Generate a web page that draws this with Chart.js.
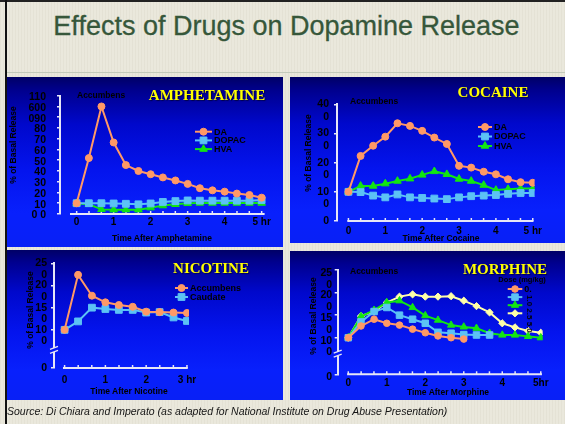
<!DOCTYPE html>
<html>
<head>
<meta charset="utf-8">
<script src="https://cdn.jsdelivr.net/npm/chart.js@4.4.1/dist/chart.umd.min.js"></script>
<style>
  html, body { margin: 0; padding: 0; }
  body {
    width: 565px; height: 424px; position: relative; overflow: hidden;
    background: #eae8dc;
    font-family: "Liberation Sans", Arial, sans-serif;
  }
  .stripes { position: absolute; left: 0; top: 0; width: 565px; height: 424px;
    background: repeating-linear-gradient(90deg, rgba(120,110,80,0.05) 0 1px, transparent 1px 3px); }
  .edge-l { position: absolute; left: 5px; top: 0; width: 2px; height: 424px; background: #111; }
  .edge-t { position: absolute; left: 0; top: 0; width: 565px; height: 2px; background: #222; }
  .heading { position: absolute; left: 0; width: 573px; top: 13px; line-height: 27px; text-align: center;
    font-size: 27px; color: #36573a; -webkit-text-stroke: 0.3px #36573a; }
  .rule { position: absolute; left: 7px; top: 72px; width: 558px; height: 1px; background: #c3cabb; }
  .panel { position: absolute; overflow: hidden;
    background: linear-gradient(180deg, #000066 0%, #00008e 8%, #0008cc 28%, #0414ee 55%, #0820fc 80%, #0820f6 100%); }
  .panel canvas { position: absolute; left: 0; top: 0; }
  .t { position: absolute; white-space: nowrap; line-height: 1; transform: translate(-50%, -50%); }
  .l { position: absolute; white-space: nowrap; line-height: 1; transform: translateY(-50%); }
  .drug { font-family: "Liberation Serif", "Times New Roman", serif; font-weight: bold; font-size: 15px;
    color: #ffff00; text-shadow: 1px 1px 1px rgba(0,0,40,0.7); }
  .blk { font-weight: bold; font-size: 8.5px; color: #000; }
  .ax { font-weight: bold; font-size: 8.5px; color: #000; }
  .rot { transform: translate(-50%, -50%) rotate(-90deg); }
  .rotd { transform: translate(-50%, -50%) rotate(90deg); }
  .source { position: absolute; left: 7px; top: 411px; transform: translateY(-50%); white-space: nowrap;
    font-style: italic; font-size: 10.5px; color: #151515; }
</style>
</head>
<body>
<div class="stripes"></div>
<div class="edge-t"></div>
<div class="edge-l"></div>
<div class="heading">Effects of Drugs on Dopamine Release</div>
<div class="rule"></div>

<div class="panel" style="left:7px;top:77px;width:276px;height:170px"><canvas id="cAmph" width="276" height="170"></canvas></div>
<div class="panel" style="left:290px;top:77px;width:275px;height:166px"><canvas id="cCoc" width="275" height="166"></canvas></div>
<div class="panel" style="left:7px;top:250px;width:276px;height:150px"><canvas id="cNic" width="276" height="150"></canvas></div>
<div class="panel" style="left:290px;top:251px;width:275px;height:149px"><canvas id="cMor" width="275" height="149"></canvas></div>

<!-- panel captions -->
<div class="t drug" style="left:207px;top:95px">AMPHETAMINE</div>
<div class="t drug" style="left:493px;top:92px">COCAINE</div>
<div class="t drug" style="left:211px;top:268px">NICOTINE</div>
<div class="t drug" style="left:505px;top:269px">MORPHINE</div>

<div class="l blk" style="left:77px;top:95px">Accumbens</div>
<div class="l blk" style="left:350px;top:101px">Accumbens</div>
<div class="l blk" style="left:350px;top:271px">Accumbens</div>

<div class="t ax rot" style="left:13px;top:145px">% of Basal Release</div>
<div class="t ax rot" style="left:308px;top:153px">% of Basal Release</div>
<div class="t ax rot" style="left:30px;top:310px">% of Basal Release</div>
<div class="t ax rot" style="left:313px;top:316px">% of Basal Release</div>

<div class="t ax" style="left:162px;top:238px">Time After Amphetamine</div>
<div class="t ax" style="left:441px;top:238px">Time After Cocaine</div>
<div class="t ax" style="left:129px;top:391px">Time After Nicotine</div>
<div class="t ax" style="left:448px;top:392px">Time After Morphine</div>

<div class="t ax" style="left:522px;top:280px;font-size:7.5px">Dose (mg/kg)</div>
<div class="t ax rotd" style="left:529px;top:314px;font-size:8px">1.0 2.5 5.0</div>

<div class="source">Source: Di Chiara and Imperato (as adapted for National Institute on Drug Abuse Presentation)</div>

<script>
// ---- Amphetamine: % of basal release, sampled every 20 min ----
const ampHours  = [0, 0.33, 0.67, 1, 1.33, 1.67, 2, 2.33, 2.67, 3, 3.33, 3.67, 4, 4.33, 4.67, 5];
const ampDA     = [100, 520, 1000, 665, 455, 400, 370, 340, 312, 280, 240, 220, 208, 190, 177, 152];
const ampDOPAC  = [100, 100, 100, 98, 95, 90, 98, 112, 120, 126, 124, 124, 124, 124, 124, 130];
const ampHVA    = [100, 90, 43, 40, 40, 40, 59, 78, 90, 99, 102, 102, 102, 102, 102, 102];
const ampYTicks = [0, 100, 200, 300, 400, 500, 600, 700, 800, 900, 1000, 1100];
const ampYLabels = ["0 0", "10", "20", "30", "40", "50", "60", "70", "80", "090", "600", "110"];

// ---- Cocaine ----
const cocHours  = [0, 0.33, 0.67, 1, 1.33, 1.67, 2, 2.33, 2.67, 3, 3.33, 3.67, 4, 4.33, 4.67, 5];
const cocDA     = [100, 223, 258, 289, 335, 326, 309, 286, 264, 189, 183, 169, 160, 143, 133, 131];
const cocDOPAC  = [100, 99, 87, 81, 91, 81, 79, 77, 75, 81, 85, 87, 89, 93, 96, 96];
const cocHVA    = [100, 120, 120, 128, 137, 145, 158, 170, 160, 144, 137, 123, 106, 109, 111, 111];
const cocYTicks = [0, 100, 200, 300, 400];
const cocYLabels = ["0", ["", "10", "0"], ["", "20", "0"], ["", "30", "0"], ["", "40", "0"]];

// ---- Nicotine ----
const nicHours     = [0, 0.33, 0.67, 1, 1.33, 1.67, 2, 2.33, 2.67, 3];
const nicAccumbens = [100, 224, 177, 162, 156, 152, 141, 140, 139, 138];
const nicCaudate   = [100, 119, 150, 147, 145, 145, 139, 140, 128, 120];
const nicYTicks  = [14, 100, 150, 200, 250];
const nicYLabels = ["0", ["", "10", "0"], ["", "15", "0"], ["", "20", "0"], ["", "25", "0"]];

// ---- Morphine, four doses ----
const morHours  = [0, 0.33, 0.67, 1, 1.33, 1.67, 2, 2.33, 2.67, 3, 3.33, 3.67, 4, 4.33, 4.67, 5];
const morDose1  = [100, 126, 141, 132, 128, 119, 111, 104, 100, 97];
const morDose2  = [100, 135, 158, 167, 150, 141, 132, 112, 110, 107, 106, 106];
const morDose3  = [100, 147, 161, 178, 182, 167, 149, 139, 128, 124, 121, 110, 106, 106, 103, 100];
const morDose4  = [100, 148, 158, 178, 191, 196, 191, 191, 192, 182, 170, 156, 132, 123, 115, 111];
const morYTicks  = [19, 100, 150, 200, 250];
const morYLabels = ["0", ["", "10", "0"], ["", "15", "0"], ["", "20", "0"], ["", "25", "0"]];

const hourTicks5   = [0, 1, 2, 3, 4, 5];
const hourLabels5  = ["0", "1", "2", "3", "4", "5 hr"];
const hourLabels5b = ["0", "1", "2", "3", "4", "5hr"];
const hourTicks3   = [0, 1, 2, 3];
const hourLabels3  = ["0", "1", "2", "3 hr"];

const ORANGE = '#ff9966', BLUE = '#5cc2f5', GREEN = '#12e612', YELLOW = '#ffffa8';
const AXIS = '#e6e6f6';
const FONT = '"Liberation Sans", Arial, sans-serif';
Chart.defaults.font.family = FONT;

// Detached time axis with 20-minute tick marks, optional axis break, and an inline legend.
const panelDecor = {
  id: 'panelDecor',
  beforeDatasetsDraw(chart, args, o) {
    const { ctx, chartArea } = chart;
    const xs = chart.scales.x, ys = chart.scales.y;
    const y0 = chartArea.bottom;
    ctx.save();
    ctx.strokeStyle = AXIS;
    ctx.lineWidth = 2;
    ctx.beginPath();
    ctx.moveTo(xs.getPixelForValue(o.xLine[0]), y0);
    ctx.lineTo(xs.getPixelForValue(o.xLine[1]), y0);
    ctx.stroke();
    ctx.lineWidth = 1.5;
    for (let k = 0; k <= o.hours * 3; k++) {
      const px = xs.getPixelForValue(k / 3);
      ctx.beginPath(); ctx.moveTo(px, y0); ctx.lineTo(px, y0 - 3); ctx.stroke();
    }
    if (o.breakAt != null) {
      const bx = chartArea.left, by = ys.getPixelForValue(o.breakAt);
      ctx.clearRect(bx - 2, by - 2, 4, 4);
      ctx.lineWidth = 1.3;
      ctx.beginPath();
      ctx.moveTo(bx - 4, by - 0.5); ctx.lineTo(bx + 4, by - 3.5);
      ctx.moveTo(bx - 4, by + 3.5); ctx.lineTo(bx + 4, by + 0.5);
      ctx.stroke();
    }
    ctx.restore();
  },
  afterDraw(chart, args, o) {
    const L = o.legend;
    if (!L) return;
    const ctx = chart.ctx;
    ctx.save();
    chart.data.datasets.forEach((ds, i) => {
      const y = L.y + i * L.dy;
      ctx.strokeStyle = ds.borderColor;
      ctx.fillStyle = ds.backgroundColor;
      ctx.lineWidth = 2;
      ctx.beginPath(); ctx.moveTo(L.x, y); ctx.lineTo(L.x + L.len, y); ctx.stroke();
      ctx.lineWidth = 1;
      Chart.helpers.drawPoint(ctx, { pointStyle: ds.pointStyle, radius: ds.pointRadius, borderWidth: 1, rotation: 0 },
        L.x + L.len / 2, y);
      const label = L.labels[i];
      if (label) {
        ctx.fillStyle = '#000';
        ctx.font = 'bold ' + L.size + 'px ' + FONT;
        ctx.textBaseline = 'middle';
        ctx.textAlign = 'left';
        ctx.fillText(label, L.x + L.len + 2, y + 0.5);
      }
    });
    ctx.restore();
  }
};

function series(label, hours, values, color, style, r) {
  return {
    label, data: values.map((v, i) => ({ x: hours[i], y: v })),
    borderColor: color, backgroundColor: color, borderWidth: 2,
    pointStyle: style, pointRadius: r, pointBorderWidth: 1, tension: 0, fill: false
  };
}

function panel(id, p) {
  const canvas = document.getElementById(id);
  return new Chart(canvas, {
    type: 'line',
    data: { datasets: p.datasets },
    options: {
      responsive: false, animation: false, devicePixelRatio: 1,
      layout: { padding: { left: 0, top: p.top, right: p.padRight, bottom: 0 } },
      plugins: { legend: { display: false }, tooltip: { enabled: false },
        panelDecor: { xLine: p.xLine, hours: p.hours, breakAt: p.breakAt, legend: p.legend } },
      scales: {
        x: {
          type: 'linear', min: p.xMin, max: p.xMax,
          afterBuildTicks: s => { s.ticks = p.xTicks.map(v => ({ value: v })); },
          afterFit: s => { s.height = p.xH; s.paddingLeft = 0; s.paddingRight = 0; s.paddingTop = 0; s.paddingBottom = 0; },
          grid: { display: false, drawTicks: false }, border: { display: false },
          ticks: { autoSkip: false, maxRotation: 0, padding: p.xPad, color: '#000',
            font: { size: 10, weight: 'bold', lineHeight: 1.2 },
            callback: (v, i) => p.xLabels[i] }
        },
        y: {
          type: 'linear', min: p.yTicks[0], max: p.yTicks[p.yTicks.length - 1],
          afterBuildTicks: s => { s.ticks = p.yTicks.map(v => ({ value: v })); },
          afterFit: s => { s.width = p.yW; s.paddingTop = 0; s.paddingBottom = 0; s.paddingLeft = 0; s.paddingRight = 0; },
          grid: { drawOnChartArea: false, drawTicks: true, tickLength: 3, color: AXIS, lineWidth: 1.5 },
          border: { display: true, color: AXIS, width: 2 },
          ticks: { autoSkip: false, padding: p.yPad, labelOffset: p.yOff, color: '#000',
            font: { size: 10.5, weight: 'bold', lineHeight: p.yLine },
            callback: (v, i) => p.yLabels[i] }
        }
      }
    },
    plugins: [panelDecor]
  });
}

panel('cAmph', {
  datasets: [
    series('DA', ampHours, ampDA, ORANGE, 'circle', 3.5),
    series('DOPAC', ampHours, ampDOPAC, BLUE, 'rect', 4.8),
    series('HVA', ampHours, ampHVA, GREEN, 'triangle', 4.4)
  ],
  top: 18.7, padRight: 15.8, yW: 53, xH: 33,
  xMin: -0.45, xMax: 5.15, xTicks: hourTicks5, xLabels: hourLabels5, xPad: 2,
  yTicks: ampYTicks, yLabels: ampYLabels, yPad: 11, yOff: 1.5, yLine: 1.1,
  xLine: [-0.18, 5.08], hours: 5, breakAt: null,
  legend: { x: 188, y: 54.7, dy: 8.7, len: 17, size: 9, labels: ['DA', 'DOPAC', 'HVA'] }
});

panel('cCoc', {
  datasets: [
    series('DA', cocHours, cocDA, ORANGE, 'circle', 3.5),
    series('DOPAC', cocHours, cocDOPAC, BLUE, 'rect', 4.8),
    series('HVA', cocHours, cocHVA, GREEN, 'triangle', 4.4)
  ],
  top: 27.3, padRight: 30.4, yW: 47, xH: 22,
  xMin: -0.31, xMax: 5.05, xTicks: hourTicks5, xLabels: hourLabels5, xPad: 4,
  yTicks: cocYTicks, yLabels: cocYLabels, yPad: 5, yOff: 0, yLine: 1.18,
  xLine: [-0.03, 5.02], hours: 5, breakAt: null,
  legend: { x: 188, y: 50, dy: 9.5, len: 14, size: 9, labels: ['DA', 'DOPAC', 'HVA'] }
});

panel('cNic', {
  datasets: [
    series('Accumbens', nicHours, nicAccumbens, ORANGE, 'circle', 3.5),
    series('Caudate', nicHours, nicCaudate, BLUE, 'rect', 4.8)
  ],
  top: 13.3, padRight: 94, yW: 47, xH: 32,
  xMin: -0.26, xMax: 3.05, xTicks: hourTicks3, xLabels: hourLabels3, xPad: 6,
  yTicks: nicYTicks, yLabels: nicYLabels, yPad: 4, yOff: 0, yLine: 1.12,
  xLine: [-0.04, 3.02], hours: 3, breakAt: 55,
  legend: { x: 168, y: 38, dy: 9, len: 13, size: 9, labels: ['Accumbens', 'Caudate'] }
});

panel('cMor', {
  datasets: [
    series('0.', morHours, morDose1, ORANGE, 'circle', 3.3),
    series('2', morHours, morDose2, BLUE, 'rect', 4.6),
    series('3', morHours, morDose3, GREEN, 'triangle', 4.2),
    series('4', morHours, morDose4, YELLOW, 'rectRot', 3.6)
  ],
  top: 19, padRight: 22.3, yW: 47.7, xH: 25.7,
  xMin: -0.275, xMax: 5.05, xTicks: hourTicks5, xLabels: hourLabels5b, xPad: 3,
  yTicks: morYTicks, yLabels: morYLabels, yPad: 2.5, yOff: 3, yLine: 1.12,
  xLine: [-0.03, 5.03], hours: 5, breakAt: 65,
  legend: { x: 217.7, y: 38, dy: 8.1, len: 14.6, size: 9, labels: ['0.', '', '', ''] }
});
</script>
</body>
</html>
